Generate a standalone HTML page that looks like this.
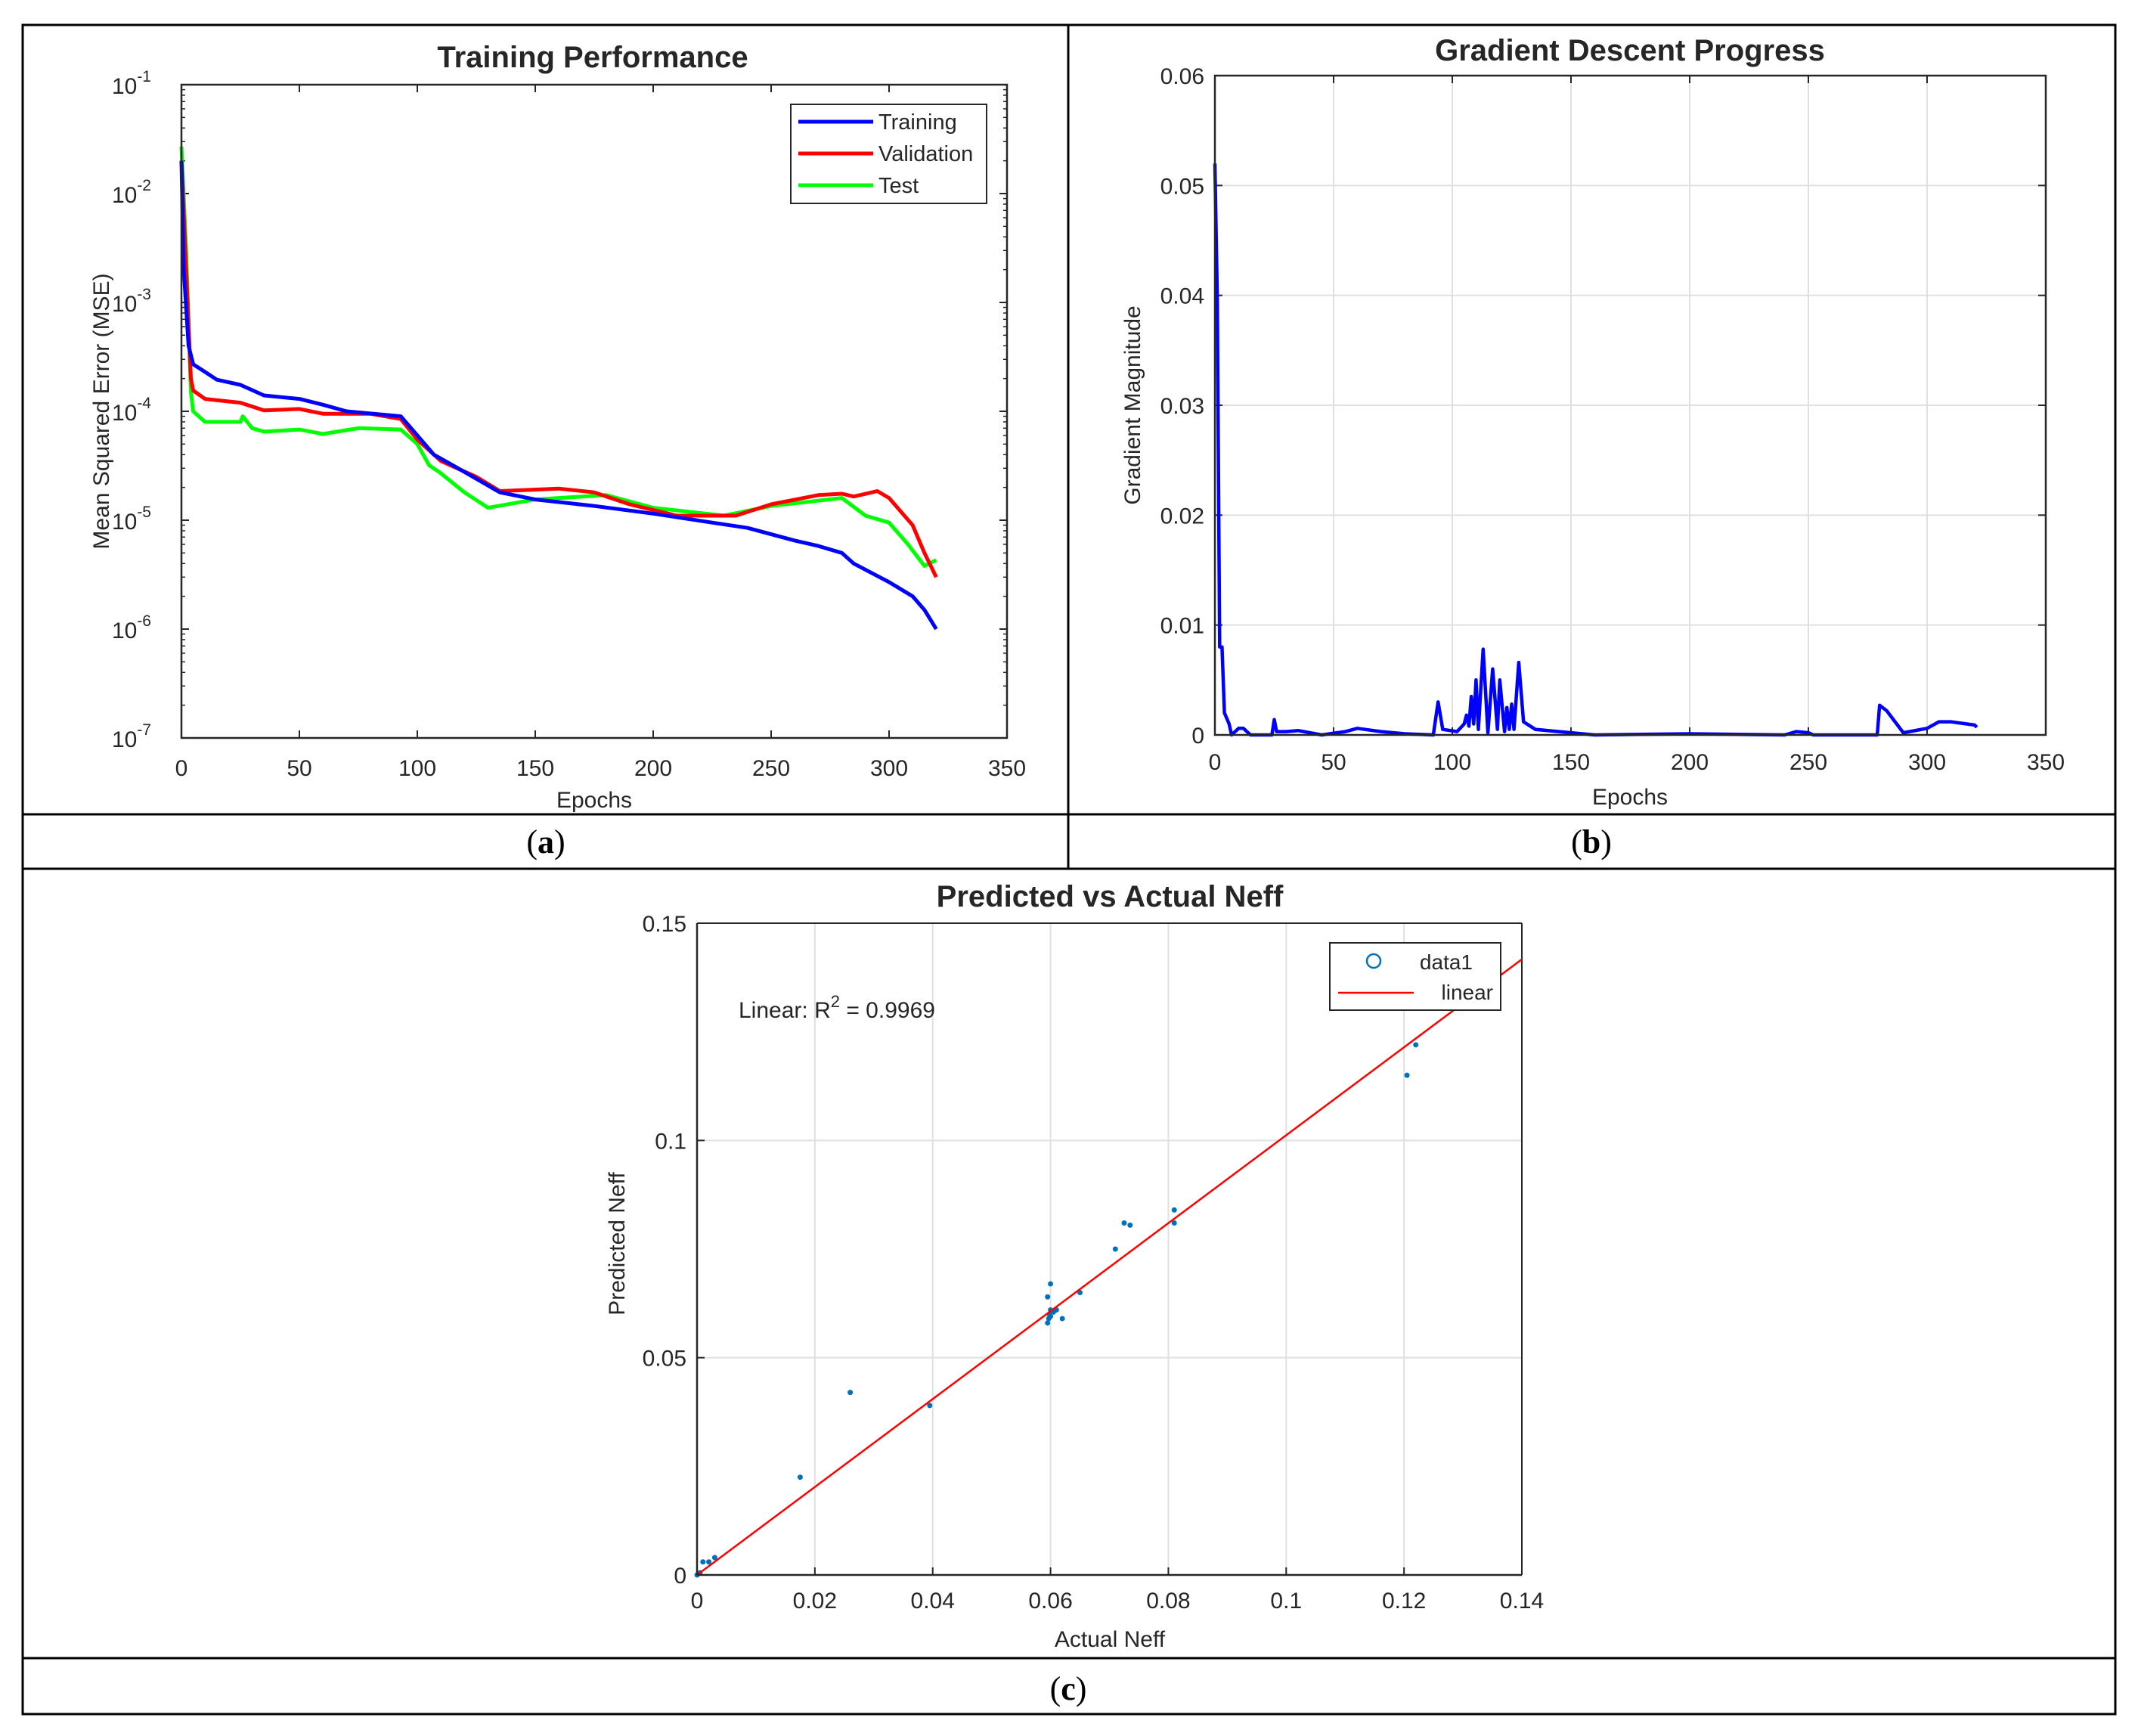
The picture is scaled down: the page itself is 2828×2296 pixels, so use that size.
<!DOCTYPE html>
<html><head><meta charset="utf-8"><style>
html,body{margin:0;padding:0;background:#fff}
svg{display:block}
text{font-family:"Liberation Sans",sans-serif;fill:#262626}
</style></head><body>
<svg id="s" width="2828" height="2296" viewBox="0 0 2828 2296">
<g stroke="#000" stroke-width="3" fill="none">
<rect x="30" y="33" width="2768" height="2234"/>
<line x1="30" y1="1077" x2="2798" y2="1077"/>
<line x1="30" y1="1149" x2="2798" y2="1149"/>
<line x1="30" y1="2193" x2="2798" y2="2193"/>
<line x1="1413" y1="33" x2="1413" y2="1149"/>
</g>
<g style="font-family:'Liberation Serif',serif" font-size="44">
<text x="722" y="1128" text-anchor="middle" style="font-family:'Liberation Serif',serif;fill:#000">(<tspan font-weight="bold">a</tspan>)</text>
<text x="2105" y="1128" text-anchor="middle" style="font-family:'Liberation Serif',serif;fill:#000">(<tspan font-weight="bold">b</tspan>)</text>
<text x="1413" y="2248" text-anchor="middle" style="font-family:'Liberation Serif',serif;fill:#000">(<tspan font-weight="bold">c</tspan>)</text>
</g>
<g id="pa"></g>
<g id="pb"></g>
<g id="pc"></g>
</svg>
<script>
// Panel A data
const epochsTrain=[0,1,3,5,10,15,25,35,50,60,70,93,100,107,115,125,135,150,175,200,225,240,260,270,280,285,300,310,315,320];
const mseTrain=[0.02,0.002,4e-4,2.7e-4,2.3e-4,1.95e-4,1.75e-4,1.4e-4,1.3e-4,1.15e-4,1.0e-4,9e-5,6e-5,4e-5,3.2e-5,2.4e-5,1.8e-5,1.55e-5,1.35e-5,1.15e-5,9.5e-6,8.5e-6,6.5e-6,5.8e-6,5e-6,4e-6,2.7e-6,2e-6,1.5e-6,1e-6];
const epochsVal=[0,2,4,5,10,25,35,50,60,80,93,100,110,125,135,160,175,190,210,235,250,270,280,285,295,300,310,315,320];
const mseVal=[0.02,0.002,2e-4,1.55e-4,1.3e-4,1.2e-4,1.02e-4,1.05e-4,9.5e-5,9.5e-5,8.5e-5,5.5e-5,3.5e-5,2.5e-5,1.85e-5,1.95e-5,1.8e-5,1.4e-5,1.1e-5,1.1e-5,1.4e-5,1.7e-5,1.75e-5,1.65e-5,1.85e-5,1.6e-5,9e-6,5e-6,3e-6];
const epochsTest=[0,2,4,5,10,25,26,30,35,50,60,75,93,100,105,110,115,120,130,150,180,200,230,250,280,290,300,308,315,320];
const mseTest=[0.027,0.003,1.5e-4,1e-4,8e-5,8e-5,9e-5,7e-5,6.5e-5,6.8e-5,6.2e-5,7e-5,6.8e-5,5e-5,3.2e-5,2.7e-5,2.2e-5,1.8e-5,1.3e-5,1.55e-5,1.7e-5,1.3e-5,1.1e-5,1.35e-5,1.6e-5,1.1e-5,9.5e-6,6e-6,3.8e-6,4.3e-6];
const xTicksA=[0,50,100,150,200,250,300,350];
const yExpA=[-7,-6,-5,-4,-3,-2,-1];
// Panel B data
const epochsGrad=[0,1,2,3,4,6,7,10,12,15,24,25,26,30,35,45,55,60,70,80,92,94,96,102,105,106,107,108,109,110,111,113,115,117,119,120,122,123,124,125,126,128,130,135,150,160,200,240,245,250,252,279,280,283,290,300,305,310,320,321];
const gradVals=[0.052,0.04,0.008,0.008,0.002,0.001,0,0.0006,0.0006,0,0,0.0014,0.0003,0.0003,0.0004,0,0.0003,0.0006,0.0003,0.0001,0,0.003,0.0005,0.0003,0.001,0.0018,0.0008,0.0035,0.001,0.005,0.0005,0.0078,0.0002,0.006,0.0005,0.005,0.0003,0.0025,0.0005,0.0028,0.0005,0.0066,0.0012,0.0005,0.0002,0,0.0001,0,0.0003,0.0002,0,0,0.0027,0.0022,0.0002,0.0006,0.0012,0.0012,0.0009,0.0007];
const xTicksB=[0,50,100,150,200,250,300,350];
const yTicksB=[0,0.01,0.02,0.03,0.04,0.05,0.06];
const yLabelsB=["0","0.01","0.02","0.03","0.04","0.05","0.06"];
// Panel C data
const actualNeff=[0,0.0005,0.001,0.002,0.003,0.0175,0.026,0.0395,0.0595,0.06,0.06,0.0598,0.0597,0.0595,0.06,0.0605,0.061,0.062,0.065,0.071,0.0725,0.0735,0.081,0.081,0.1205,0.122];
const predNeff=[0,0.0005,0.003,0.003,0.004,0.0225,0.042,0.039,0.064,0.067,0.061,0.060,0.059,0.058,0.0595,0.0605,0.061,0.059,0.065,0.075,0.081,0.0805,0.084,0.081,0.115,0.122];
const fitSlope=[1.012];
const xTicksC=[0,0.02,0.04,0.06,0.08,0.1,0.12,0.14];
const xLabelsC=["0","0.02","0.04","0.06","0.08","0.1","0.12","0.14"];
const yTicksC=[0,0.05,0.1,0.15];
const yLabelsC=["0","0.05","0.1","0.15"];

const NS="http://www.w3.org/2000/svg";
function mk(p,t,a){const e=document.createElementNS(NS,t);for(const k in a)e.setAttribute(k,a[k]);p.appendChild(e);return e;}
function txt(p,x,y,s,size,anchor,extra){const e=mk(p,'text',Object.assign({x:x,y:y,'font-size':size,'text-anchor':anchor||'middle'},extra||{}));e.textContent=s;return e;}

// ---------- Panel A ----------
(function(){
const g=document.getElementById('pa');
const L=240,R=1332,T=112,B=976;
const xs=v=>L+(v-0)/(350)*(R-L);
const ys=v=>B-(Math.log10(v)+7)/6*(B-T);
mk(g,'rect',{x:L,y:T,width:R-L,height:B-T,fill:'#fff',stroke:'none'});
xTicksA.forEach(v=>{
 const x=xs(v);
 const t1=mk(g,'line',{x1:x,y1:B,x2:x,y2:B-10,stroke:'#262626','stroke-width':2});
 
 mk(g,'line',{x1:x,y1:T,x2:x,y2:T+10,stroke:'#262626','stroke-width':2});
 const l=txt(g,x,B+50,String(v),30);
 
});
yExpA.forEach((e,i)=>{
 const y=ys(Math.pow(10,e));
 mk(g,'line',{x1:L,y1:y,x2:L+10,y2:y,stroke:'#262626','stroke-width':2});
 mk(g,'line',{x1:R,y1:y,x2:R-10,y2:y,stroke:'#262626','stroke-width':2});
 const l=txt(g,L-40,y+12,'10',30,'end');
 
 const s=mk(l,'tspan',{dy:-16,'font-size':21});s.textContent=String(e);
 if(i<yExpA.length-1){for(let m=2;m<10;m++){const ym=ys(m*Math.pow(10,e));
  mk(g,'line',{x1:L,y1:ym,x2:L+5,y2:ym,stroke:'#262626','stroke-width':1.5});
  mk(g,'line',{x1:R,y1:ym,x2:R-5,y2:ym,stroke:'#262626','stroke-width':1.5});}}
});
function line(xa,ya,col,name){const d=xa.map((x,i)=>(i?'L':'M')+xs(x).toFixed(1)+','+ys(ya[i]).toFixed(1)).join('');
 const p=mk(g,'path',{d:d,fill:'none',stroke:col,'stroke-width':5,'stroke-linejoin':'round'});
 }
line(epochsTest,mseTest,'#00ff00','test-line');
line(epochsVal,mseVal,'#ff0000','validation-line');
line(epochsTrain,mseTrain,'#0000ff','training-line');
mk(g,'rect',{x:L,y:T,width:R-L,height:B-T,fill:'none',stroke:'#262626','stroke-width':2.5});
const t=txt(g,784,89,'Training Performance',40,'middle',{'font-weight':'bold'});

const xl=txt(g,786,1068,'Epochs',30);

const yl=txt(g,0,0,'Mean Squared Error  (MSE)',30,'middle',{transform:'translate(144,544) rotate(-90)'});

const lg=mk(g,'g',{});

mk(lg,'rect',{x:1046,y:138,width:259,height:131,fill:'#fff',stroke:'#262626','stroke-width':2});
[['Training','#0000ff'],['Validation','#ff0000'],['Test','#00ff00']].forEach((e,i)=>{
 const y=161+i*42;
 mk(lg,'line',{x1:1056,y1:y,x2:1155,y2:y,stroke:e[1],'stroke-width':5});
 const le=txt(lg,1162,y+10,e[0],29,'start');
 
});
})();

// ---------- Panel B ----------
(function(){
const g=document.getElementById('pb');
const L=1607,R=2706,T=100,B=972;
const xs=v=>L+v/350*(R-L);
const ys=v=>B-v/0.06*(B-T);
xTicksB.forEach(v=>{const x=xs(v);
 mk(g,'line',{x1:x,y1:T,x2:x,y2:B,stroke:'#e0e0e0','stroke-width':2});
 mk(g,'line',{x1:x,y1:B,x2:x,y2:B-10,stroke:'#262626','stroke-width':2});
 mk(g,'line',{x1:x,y1:T,x2:x,y2:T+10,stroke:'#262626','stroke-width':2});
 const l=txt(g,x,B+46,String(v),30);
 });
yTicksB.forEach((v,i)=>{const y=ys(v);
 mk(g,'line',{x1:L,y1:y,x2:R,y2:y,stroke:'#e0e0e0','stroke-width':2});
 mk(g,'line',{x1:L,y1:y,x2:L+10,y2:y,stroke:'#262626','stroke-width':2});
 mk(g,'line',{x1:R,y1:y,x2:R-10,y2:y,stroke:'#262626','stroke-width':2});
 const l=txt(g,L-14,y+11,yLabelsB[i],30,'end');
 });
const d=epochsGrad.map((x,i)=>(i?'L':'M')+xs(x).toFixed(1)+','+ys(gradVals[i]).toFixed(1)).join('');
const p=mk(g,'path',{d:d,fill:'none',stroke:'#0000ff','stroke-width':4.5,'stroke-linejoin':'round'});

mk(g,'rect',{x:L,y:T,width:R-L,height:B-T,fill:'none',stroke:'#262626','stroke-width':2.5});
const t=txt(g,2156,80,'Gradient Descent Progress',40,'middle',{'font-weight':'bold'});

const xl=txt(g,2156,1064,'Epochs',30);

const yl=txt(g,0,0,'Gradient Magnitude',30,'middle',{transform:'translate(1508,536) rotate(-90)'});

})();

// ---------- Panel C ----------
(function(){
const g=document.getElementById('pc');
const L=922,R=2013,T=1221,B=2083;
const xs=v=>L+v/0.14*(R-L);
const ys=v=>B-v/0.15*(B-T);
xTicksC.forEach((v,i)=>{const x=xs(v);
 mk(g,'line',{x1:x,y1:T,x2:x,y2:B,stroke:'#e0e0e0','stroke-width':2});
 mk(g,'line',{x1:x,y1:B,x2:x,y2:B-10,stroke:'#262626','stroke-width':2});
 const l=txt(g,x,B+44,xLabelsC[i],30);
 });
yTicksC.forEach((v,i)=>{const y=ys(v);
 mk(g,'line',{x1:L,y1:y,x2:R,y2:y,stroke:'#e0e0e0','stroke-width':2});
 mk(g,'line',{x1:L,y1:y,x2:L+10,y2:y,stroke:'#262626','stroke-width':2});
 const l=txt(g,L-14,y+11,yLabelsC[i],30,'end');
 });
mk(g,'line',{x1:L,y1:T,x2:R,y2:T,stroke:'#262626','stroke-width':2});
mk(g,'line',{x1:R,y1:T,x2:R,y2:B,stroke:'#262626','stroke-width':2});
actualNeff.forEach((a,i)=>{
 const c=mk(g,'circle',{cx:xs(a),cy:ys(predNeff[i]),r:3.5,fill:'#0072bd'});
 });
const fl=mk(g,'line',{x1:xs(0),y1:ys(0),x2:xs(0.14),y2:ys(0.14*fitSlope[0]),stroke:'#ff0000','stroke-width':2.5});

mk(g,'line',{x1:L,y1:B,x2:R,y2:B,stroke:'#262626','stroke-width':2.5});
mk(g,'line',{x1:L,y1:T,x2:L,y2:B,stroke:'#262626','stroke-width':2.5});
const t=txt(g,1468,1199,'Predicted vs Actual Neff',40,'middle',{'font-weight':'bold'});

const xl=txt(g,1468,2178,'Actual Neff',30);

const yl=txt(g,0,0,'Predicted Neff',30,'middle',{transform:'translate(826,1645) rotate(-90)'});

const an=txt(g,977,1346,'Linear: R',30,'start');

const sp=mk(an,'tspan',{dy:-14,'font-size':22});sp.textContent='2';
const sp2=mk(an,'tspan',{dy:14});sp2.textContent=' = 0.9969';
const lg=mk(g,'g',{});

mk(lg,'rect',{x:1759,y:1247,width:226,height:89,fill:'#fff',stroke:'#262626','stroke-width':2});
mk(lg,'circle',{cx:1817,cy:1271,r:9,fill:'none',stroke:'#0072bd','stroke-width':2.5});
const l1=txt(lg,1948,1282,'data1',28,'end');

mk(lg,'line',{x1:1770,y1:1313,x2:1870,y2:1313,stroke:'#ff0000','stroke-width':2.5});
const l2=txt(lg,1975,1322,'linear',28,'end');

})();
</script>
</body></html>
